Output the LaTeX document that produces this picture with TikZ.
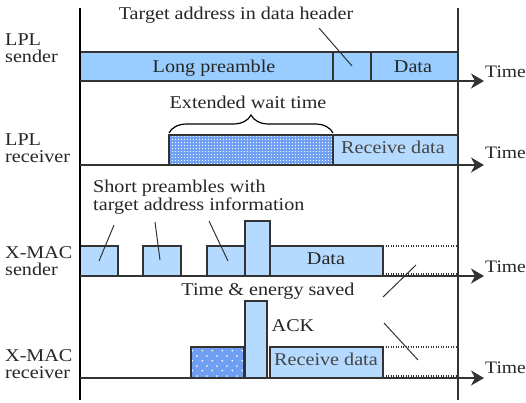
\documentclass[tikz,border=0pt]{standalone}
\usepackage{fontspec}
\setmainfont{Liberation Serif}[FakeStretch=1.12]
\usetikzlibrary{arrows.meta,patterns,decorations.pathreplacing}
\definecolor{preblue}{HTML}{99CCFF}
\definecolor{rxblue}{HTML}{B5DAFF}
\definecolor{waitblue}{HTML}{6E9FF2}
\definecolor{edge}{HTML}{333333}
\definecolor{txtgray}{HTML}{454545}
\pgfdeclarepatternformonly{finedots}{\pgfpointorigin}{\pgfpoint{3.3pt}{3.3pt}}{\pgfpoint{3.3pt}{3.3pt}}{%
	\pgfpathcircle{\pgfpoint{1.65pt}{1.65pt}}{0.75pt}\pgfusepath{fill}}
\pgfdeclarepatternformonly{sparsedots}{\pgfpointorigin}{\pgfpoint{10pt}{10pt}}{\pgfpoint{10pt}{10pt}}{%
	\pgfpathcircle{\pgfpoint{2.5pt}{2.5pt}}{1pt}\pgfpathcircle{\pgfpoint{7.5pt}{7.5pt}}{1pt}\pgfusepath{fill}}
\begin{document}
\begin{tikzpicture}[x=1pt,y=-1pt,
		box/.style={draw=edge,line width=1.2pt},
		openbox/.style={draw=edge,line width=1.2pt,dash pattern=on 1.2pt off 1.3pt},
		timeaxis/.style={draw=edge,line width=1.3pt,-{Stealth[length=13pt,width=15pt,inset=4pt]}},
		lbl/.style={font=\fontsize{18}{17}\selectfont,inner sep=0pt,text=black!85},
		tick/.style={draw=edge,line width=1pt}]
		\useasboundingbox (0,0) rectangle (526,402);
		\fill[white] (0,0) rectangle (526,402);
		% LPL sender
		\draw[box,fill=preblue] (80,52) rectangle (458,81);
		\draw[box] (333,52) -- (333,81) (371,52) -- (371,81);
		% LPL receiver
		\fill[waitblue] (169,135) rectangle (333,165);
		\fill[pattern=finedots,pattern color=white] (169,135) rectangle (333,165);
		\draw[box] (169,165) -- (169,135) -- (333,135) -- (333,165);
		\draw[box,fill=rxblue] (333,135) rectangle (458,165);
		\draw[decorate,decoration={brace,amplitude=18pt},line width=1.2pt] (169,133) -- (333,133);
		% X-MAC sender
		\draw[box,fill=rxblue] (80,246) rectangle (118,276);
		\draw[box,fill=rxblue] (143,246) rectangle (181,276);
		\draw[box,fill=rxblue] (207,246) rectangle (245,276);
		\draw[box,fill=rxblue] (245,221) rectangle (270,276);
		\draw[box,fill=rxblue] (270,246) rectangle (383,276);
		\draw[openbox] (383,246) -- (458,246) (383,274) -- (458,274);
		% X-MAC receiver
		\fill[waitblue] (191,347) rectangle (244,378);
		\fill[pattern=sparsedots,pattern color=white] (191,347) rectangle (244,378);
		\draw[box] (191,347) rectangle (244,378);
		\draw[box,fill=rxblue] (245,301) rectangle (267,378);
		\draw[box,fill=rxblue] (270,347) rectangle (383,378);
		\draw[openbox] (383,347) -- (458,347) (383,376) -- (458,376);
		% axes
		\draw[black,line width=1.4pt] (80,8) -- (80,400);
		\draw[edge,line width=1.2pt] (458,8) -- (458,400);
		\draw[timeaxis] (80,81) -- (484,81);
		\draw[timeaxis] (80,165) -- (484,165);
		\draw[timeaxis] (80,276) -- (484,276);
		\draw[timeaxis] (80,378) -- (484,378);
		\node[lbl,anchor=base west,font=\fontsize{17.5}{17}\selectfont] (time1) at (485,77) {Time};
		\node[lbl,anchor=base west,font=\fontsize{17.5}{17}\selectfont] (time2) at (485,158) {Time};
		\node[lbl,anchor=base west,font=\fontsize{17.5}{17}\selectfont] (time3) at (485,272) {Time};
		\node[lbl,anchor=base west,font=\fontsize{17.5}{17}\selectfont] (time4) at (485,373) {Time};
		% row names
		\node[lbl,anchor=north west,align=left] (lplsnd) at (5,34) {LPL\\sender};
		\node[lbl,anchor=north west,align=left] (lplrcv) at (5,134) {LPL\\receiver};
		\node[lbl,anchor=north west,align=left] (xsnd) at (5,246) {X-MAC\\sender};
		\node[lbl,anchor=north west,align=left] (xrcv) at (5,349) {X-MAC\\receiver};
		% texts
		\node[lbl,anchor=base] (tgt) at (236,19) {Target address in data header};
		\node[lbl,anchor=base] (longpre) at (214,72) {Long preamble};
		\node[lbl,anchor=base] (lpldata) at (413,72) {Data};
		\node[lbl,anchor=base] (wait) at (248,108) {Extended wait time};
		\node[lbl,anchor=base,text=txtgray] (lplrx) at (393,153) {Receive data};
		\node[lbl,anchor=north west,align=left,font=\fontsize{18}{16}\selectfont] (shortpre) at (93,180) {Short preambles with\\target address information};
		\node[lbl,anchor=base] (xdata) at (326,264) {Data};
		\node[lbl,anchor=base] (saved) at (268,295) {Time \& energy saved};
		\node[lbl,anchor=base] (ack) at (293,331) {ACK};
		\node[lbl,anchor=base,text=txtgray] (xrx) at (326,365) {Receive data};
		% leader lines
		\coordinate (tgtA) at (319,28);
		\coordinate (tgtB) at (352,66);
		\draw[tick] (tgtA) -- (tgtB);
		\coordinate (spA) at (114,225);
		\coordinate (spB) at (99,261);
		\draw[tick] (spA) -- (spB);
		\coordinate (spC) at (155,222);
		\coordinate (spD) at (160,260);
		\draw[tick] (spC) -- (spD);
		\coordinate (spE) at (209,221);
		\coordinate (spF) at (228,261);
		\draw[tick] (spE) -- (spF);
		\coordinate (svA) at (383,297);
		\coordinate (svB) at (416,265);
		\draw[tick] (svA) -- (svB);
		\coordinate (svC) at (384,323);
		\coordinate (svD) at (418,360);
		\draw[tick] (svC) -- (svD);
	\end{tikzpicture}
\end{document}
